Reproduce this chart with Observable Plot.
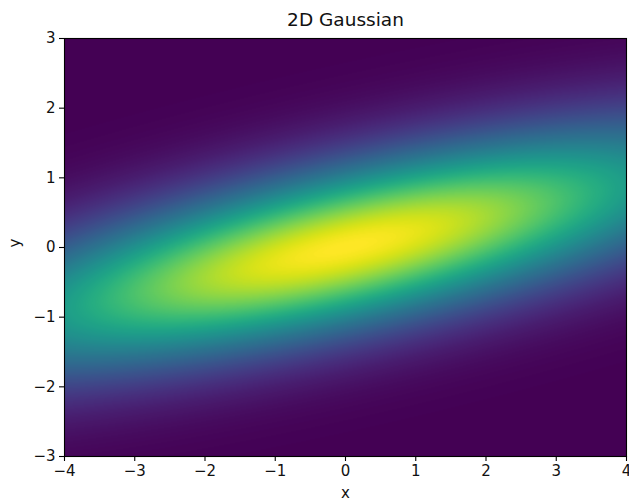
<!DOCTYPE html>
<html><head><meta charset="utf-8">
<script src="https://cdn.jsdelivr.net/npm/d3@7"></script>
<script src="https://cdn.jsdelivr.net/npm/@observablehq/plot@0.6"></script>
<style>body{margin:0;background:#fff;} svg{font-family:"DejaVu Sans",sans-serif;}</style>
</head><body><div id="chart"></div>
<script>
const title = "2D Gaussian";
const xLabel = "x";
const yLabel = "y";
const xDomain = [-4, 4];
const yDomain = [-3, 3];
const xTicks = [-4, -3, -2, -1, 0, 1, 2, 3, 4];
const yTicks = [-3, -2, -1, 0, 1, 2, 3];
const mean = [0, 0];
const covRowX = [13.5, 2.97];
const covRowY = [2.97, 1.29];

const a = covRowX[0], b = covRowX[1], d = covRowY[1];
const det = a * d - b * b;
function density(x, y) {
  const dx = x - mean[0], dy = y - mean[1];
  const q = (d * dx * dx - 2 * b * dx * dy + a * dy * dy) / det;
  return Math.exp(-q / 2) / (2 * Math.PI * Math.sqrt(det));
}
const fmt = v => (v < 0 ? "\u2212" + Math.abs(v) : String(v));

const plot = Plot.plot({
  width: 629, height: 504,
  marginTop: 38, marginBottom: 48, marginLeft: 64, marginRight: 3,
  style: {fontFamily: "DejaVu Sans", fontSize: "15px", background: "#fff"},
  x: {domain: xDomain, label: null},
  y: {domain: yDomain, label: null},
  color: {type: "linear", scheme: "viridis"},
  marks: [
    Plot.raster({fill: density, x1: xDomain[0], x2: xDomain[1], y1: yDomain[0], y2: yDomain[1], pixelSize: 1}),
    Plot.frame({stroke: "black", strokeWidth: 1.1}),
    Plot.axisX({ticks: xTicks, tickFormat: fmt, tickSize: 5, tickPadding: 4, fontSize: 15, label: null, strokeWidth: 1.1, fill: "#111"}),
    Plot.axisY({ticks: yTicks, tickFormat: fmt, tickSize: 5, tickPadding: 4, fontSize: 15, label: null, strokeWidth: 1.1, fill: "#111"}),
    Plot.text([title], {frameAnchor: "top", lineAnchor: "middle", dy: -18, fontSize: 18.5, fill: "#111"}),
    Plot.text([xLabel], {frameAnchor: "bottom", lineAnchor: "middle", dy: 37, fontSize: 15, fill: "#111"}),
    Plot.text([yLabel], {frameAnchor: "left", dx: -49, rotate: -90, fontSize: 15, fill: "#111"})
  ]
});
document.getElementById("chart").append(plot);
</script>
</body></html>
